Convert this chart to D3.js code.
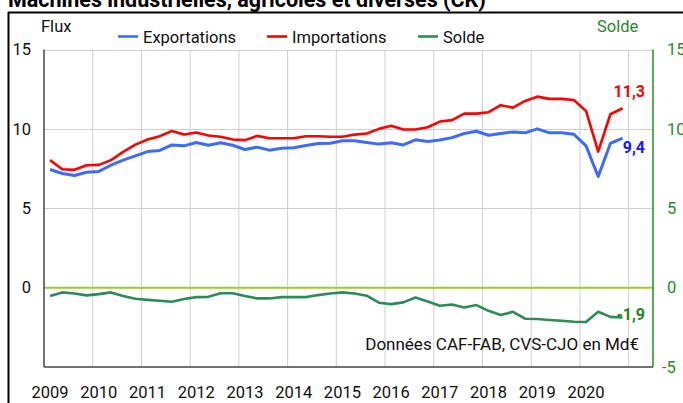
<!DOCTYPE html>
<html><head><meta charset="utf-8">
<script src="https://cdn.jsdelivr.net/npm/d3@7"></script>
<style>
html,body{margin:0;padding:0;background:#fff;}
svg{display:block;font-family:Roboto, "Noto Sans", sans-serif;}
</style></head>
<body><svg id="chart" width="683" height="403"></svg>
<script>
// ---- data ----
const title = "Machines industrielles, agricoles et diverses (CK)";
const years = [2009,2010,2011,2012,2013,2014,2015,2016,2017,2018,2019,2020];
const quarterNames = ["T1","T2","T3","T4"];
const exportations = [7.44,7.19,7.06,7.27, 7.32,7.71,8.03,8.30, 8.57,8.64,8.99,8.93, 9.14,8.97,9.12,8.97,
  8.70,8.85,8.66,8.78, 8.81,8.95,9.08,9.10, 9.25,9.25,9.14,9.04, 9.12,8.99,9.31,9.20,
  9.30,9.45,9.71,9.85, 9.60,9.71,9.81,9.75, 10.00,9.75,9.75,9.66, 8.93,7.00,9.08,9.41];
const importations = [8.03,7.46,7.42,7.71, 7.73,8.03,8.55,9.01, 9.33,9.54,9.87,9.64, 9.77,9.58,9.50,9.33,
  9.29,9.56,9.41,9.41, 9.41,9.54,9.54,9.50, 9.50,9.64,9.71,10.00, 10.19,9.96,9.96,10.10,
  10.46,10.55,10.96,10.96, 11.05,11.49,11.34,11.76, 12.03,11.89,11.89,11.82, 11.13,8.57,10.92,11.30];
const solde = [-0.53,-0.30,-0.37,-0.49, -0.41,-0.30,-0.53,-0.70, -0.77,-0.83,-0.89,-0.72, -0.60,-0.58,-0.35,-0.35,
  -0.53,-0.68,-0.68,-0.60, -0.60,-0.60,-0.47,-0.37, -0.30,-0.37,-0.51,-0.95, -1.04,-0.93,-0.62,-0.87,
  -1.14,-1.06,-1.25,-1.10, -1.46,-1.73,-1.52,-1.96, -1.98,-2.04,-2.09,-2.15, -2.17,-1.52,-1.84,-1.88];
const leftTicks = [0,5,10,15];
const rightTicks = [-5,0,5,10,15];
const seriesNames = ["Exportations","Importations","Solde"];
const seriesColors = ["#3d6bff","#ff0000","#2e8b57"];
const labelColors = ["#1a1aff","#ff0000","#1f8a1f"];
const note = "Données CAF-FAB, CVS-CJO en Md€";

// quarter categories
const quarters = [];
years.forEach(y => quarterNames.forEach((q,k) => quarters.push({year:y, q:k, name:y+q})));

// ---- layout ----
const svg = d3.select("#chart");
const L = 44, R = 653, T = 49.5, B = 367;
const x = d3.scaleLinear().domain([2009, 2021.5]).range([L, R]);
const y = d3.scaleLinear().domain([-5, 15]).range([B, T]);
const xq = d => x(d.year + (d.q + 0.5) / 4);
const fr = d3.formatLocale({decimal:",", thousands:" ", grouping:[3], currency:["","€"], minus:"-"});
const fmt = fr.format(".1f");

// title (cut off at top)
svg.append("text").attr("x", 8).attr("y", 7).attr("font-size", 21.5).attr("font-weight", "bold")
  .attr("fill", "#000").text(title);

// outer frame
svg.append("line").attr("x1", 8).attr("x2", 683).attr("y1", 12.5).attr("y2", 12.5).attr("stroke", "#000").attr("stroke-width", 2);
svg.append("line").attr("x1", 8.5).attr("x2", 8.5).attr("y1", 12).attr("y2", 403).attr("stroke", "#000").attr("stroke-width", 2);

// horizontal grid
svg.append("g").selectAll("line").data([5,10,15]).join("line")
  .attr("x1", L).attr("x2", R).attr("y1", d => Math.round(y(d)) + 0.5).attr("y2", d => Math.round(y(d)) + 0.5)
  .attr("stroke", "#cfcfcf").attr("stroke-width", 1);
// vertical grid at year boundaries
const gridYears = years.slice(1).concat([2021]);
svg.append("g").selectAll("line").data(gridYears).join("line")
  .attr("x1", d => x(d)).attr("x2", d => x(d)).attr("y1", T).attr("y2", B)
  .attr("stroke", "#cfcfcf").attr("stroke-width", 1);

// zero line
svg.append("line").attr("x1", L).attr("x2", R).attr("y1", y(0)).attr("y2", y(0))
  .attr("stroke", "#9acd32").attr("stroke-width", 2);

// plot borders
svg.append("line").attr("x1", L).attr("x2", L).attr("y1", T).attr("y2", B).attr("stroke", "#444").attr("stroke-width", 1.5);
svg.append("line").attr("x1", L).attr("x2", R).attr("y1", B).attr("y2", B).attr("stroke", "#444").attr("stroke-width", 1.5);
svg.append("line").attr("x1", R).attr("x2", R).attr("y1", T).attr("y2", B).attr("stroke", "#2a8a2a").attr("stroke-width", 1.5);

// lines
const line = d3.line().x((d,i) => xq(quarters[i])).y(d => y(d));
[exportations, importations, solde].forEach((s, k) => {
  svg.append("path").datum(s).attr("d", line).attr("fill", "none")
    .attr("stroke", seriesColors[k]).attr("stroke-width", k === 0 ? 3 : 2.6)
    .attr("stroke-linejoin", "round");
});

// left axis labels
svg.append("g").selectAll("text").data(leftTicks).join("text")
  .attr("x", 31).attr("y", d => y(d)).attr("dy", "0.35em").attr("text-anchor", "end")
  .attr("font-size", 16.5).attr("fill", "#111").text(d => d);
// right axis labels
svg.append("g").selectAll("text").data(rightTicks).join("text")
  .attr("x", d => d < 0 ? 662 : 667).attr("y", d => y(d)).attr("dy", "0.35em").attr("text-anchor", "start")
  .attr("font-size", 16.5).attr("fill", "#2a8a2a").text(d => fmt(d).replace(",0", ""));
// x labels
svg.append("g").selectAll("text").data(years).join("text")
  .attr("x", d => x(d + 0.125)).attr("y", 398).attr("text-anchor", "middle")
  .attr("font-size", 16.5).attr("fill", "#111").text(d => d);

// axis titles
svg.append("text").attr("x", 41).attr("y", 32).attr("font-size", 16.5).attr("fill", "#111").text("Flux");
svg.append("text").attr("x", 597).attr("y", 32).attr("font-size", 16.5).attr("fill", "#2a8a2a").text("Solde");

// legend
svg.append("rect").attr("x", 100).attr("y", 20).attr("width", 399).attr("height", 29.5).attr("fill", "#fff");
const legX = [118, 267, 418];
seriesNames.forEach((n, k) => {
  svg.append("line").attr("x1", legX[k]).attr("x2", legX[k] + 20).attr("y1", 36.5).attr("y2", 36.5)
    .attr("stroke", seriesColors[k]).attr("stroke-width", 2.6);
  svg.append("text").attr("x", legX[k] + 25).attr("y", 43).attr("font-size", 16.5).attr("fill", "#111").text(n);
});

// note
svg.append("text").attr("x", 639).attr("y", 350).attr("text-anchor", "end")
  .attr("font-size", 17).attr("fill", "#111").text(note);

// end value labels
const endVals = [exportations[exportations.length-1], importations[importations.length-1], solde[solde.length-1]];
const endDy = [15, -11, 3];
endVals.forEach((v, k) => {
  svg.append("text").attr("x", 645).attr("y", y(v) + endDy[k]).attr("text-anchor", "end")
    .attr("font-size", 16).attr("font-weight", "bold").attr("fill", labelColors[k]).text(fmt(v));
});
</script></body></html>
